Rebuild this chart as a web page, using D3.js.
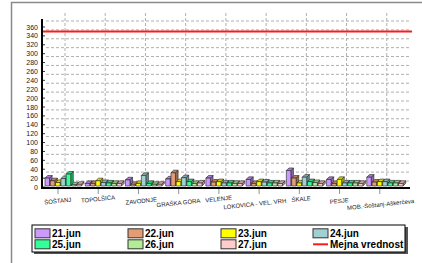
<!DOCTYPE html>
<html><head><meta charset="utf-8">
<script src="https://cdn.jsdelivr.net/npm/d3@7"></script>
<style>html,body{margin:0;padding:0;background:#fff;}svg{display:block;}</style>
</head><body>
<script>
const categories = ["ŠOŠTANJ","TOPOLŠICA","ZAVODNJE","GRAŠKA GORA","VELENJE","LOKOVICA - VEL. VRH","ŠKALE","PESJE","MOB.-Šoštanj-Aškerčeva"];
const seriesNames = ["21.jun","22.jun","23.jun","24.jun","25.jun","26.jun","27.jun"];
const s21 = [20, 8, 16, 18, 20, 17, 37, 17, 22];
const s22 = [14, 8, 6, 32, 11, 8, 20, 8, 11];
const s23 = [10, 14, 8, 12, 12, 12, 9, 17, 12];
const s24 = [19, 10, 26, 21, 9, 11, 22, 9, 12];
const s25 = [29, 9, 8, 12, 9, 9, 12, 9, 9];
const s26 = [5, 8, 6, 8, 8, 9, 10, 9, 9];
const s27 = [6, 8, 6, 9, 8, 8, 8, 8, 8];
const limitName = "Mejna vrednost";
const limitValue = 350;
const yTicks = d3.range(0, 361, 20);
const colors = ["#cc99ff","#e39c74","#ffff00","#a0d0d2","#33ff99","#b4ec96","#ffcccc"];
const allSeries = [s21,s22,s23,s24,s25,s26,s27];

const W = 422, H = 263;
const svg = d3.select("body").append("svg").attr("width", W).attr("height", H);
const font = "'Liberation Sans', Arial, sans-serif";

// outer frame
svg.append("path").attr("d", "M11.5,270 V2.5 H430").attr("fill","none").attr("stroke","#8a8a8a").attr("stroke-width",1.5);

const y = d3.scaleLinear().domain([0, 360]).range([187, 27]);
const x = d3.scaleBand().domain(categories).range([43, 405]);
const wallDy = -6;

// back wall horizontal gridlines
svg.append("g").selectAll("line").data(yTicks).join("line")
  .attr("x1", 46).attr("x2", 411)
  .attr("y1", d => y(d) + wallDy).attr("y2", d => y(d) + wallDy)
  .attr("stroke", "#b0b0b0").attr("stroke-width", 1).attr("stroke-dasharray", "3,2");
// vertical gridlines
svg.append("g").selectAll("line").data(categories).join("line")
  .attr("x1", d => x(d) + 22).attr("x2", d => x(d) + 22)
  .attr("y1", 13).attr("y2", 183)
  .attr("stroke", "#b0b0b0").attr("stroke-width", 1).attr("stroke-dasharray", "3,2");

// limit line
svg.append("line").attr("x1", 42).attr("x2", 412)
  .attr("y1", y(limitValue)).attr("y2", y(limitValue))
  .attr("stroke", "#ff1a1a").attr("stroke-width", 2);

// 3D bars
const step = 5.3, bw = 4.5, dx = 2.6, dy = 2.6;
const bars = svg.append("g");
categories.forEach((c, ci) => {
  allSeries.forEach((s, si) => {
    const col = colors[si];
    const dark = d3.color(col).darker(1.1).formatHex();
    const mid = d3.color(col).darker(0.5).formatHex();
    const x0 = x(c) + 2 + si * step;
    const x1 = x0 + bw;
    const yb = y(0) - 1;
    const yt = y(s[ci]);
    const g = bars.append("g").attr("stroke", "#222").attr("stroke-width", 0.6).attr("stroke-linejoin","round");
    g.append("path").attr("d", `M${x1},${yb} L${x1+dx},${yb-dy} L${x1+dx},${yt-dy} L${x1},${yt} Z`).attr("fill", dark);
    g.append("path").attr("d", `M${x0},${yt} L${x0+dx},${yt-dy} L${x1+dx},${yt-dy} L${x1},${yt} Z`).attr("fill", mid);
    g.append("rect").attr("x", x0).attr("y", yt).attr("width", bw).attr("height", yb - yt).attr("fill", col);
  });
});

// y axis
svg.append("line").attr("x1", 42).attr("x2", 42).attr("y1", 19).attr("y2", 189).attr("stroke", "#000").attr("stroke-width", 2);
svg.append("g").selectAll("line").data(yTicks).join("line")
  .attr("x1", 42).attr("x2", 45).attr("y1", d => y(d)).attr("y2", d => y(d)).attr("stroke","#000").attr("stroke-width",0.8);
svg.append("g").selectAll("text").data(yTicks).join("text")
  .attr("x", 38).attr("y", d => y(d) + 2.5).attr("text-anchor", "end")
  .attr("font-family", font).attr("font-size", 7).attr("fill", "#222").text(d => d);

// x axis
svg.append("line").attr("x1", 41).attr("x2", 410).attr("y1", 188).attr("y2", 188).attr("stroke", "#000").attr("stroke-width", 2);
svg.append("g").selectAll("line").data(categories).join("line")
  .attr("x1", d => x(d) + 15).attr("x2", d => x(d) + 15).attr("y1", 189).attr("y2", 194)
  .attr("stroke", "#777").attr("stroke-width", 0.8);
const labelDy = [203, 201, 203, 205, 201, 206, 201, 203, 206.5];
const labelDx = [0, 0, 3, 0, 0, -4, 2, 0, 1];
svg.append("g").selectAll("text").data(categories).join("text")
  .attr("transform", (d, i) => `translate(${x(d) + 15 + labelDx[i]},${labelDy[i]}) rotate(-6)`)
  .attr("text-anchor", "middle").attr("font-family", font).attr("font-size", 6).attr("fill", "#222")
  .text(d => d);

// legend
const lg = svg.append("g");
lg.append("rect").attr("x", 34).attr("y", 227).attr("width", 374).attr("height", 27).attr("fill", "#555");
lg.append("rect").attr("x", 32).attr("y", 225).attr("width", 373).attr("height", 27).attr("fill", "#fff").attr("stroke", "#000").attr("stroke-width", 1);
const colX = [35, 128, 221, 313];
const rowY = [233.3, 244.3];
const legendItems = seriesNames.map((n, i) => ({name: n, color: colors[i], type: "bar"}));
legendItems.push({name: limitName, color: "#ff1a1a", type: "line"});
legendItems.forEach((it, i) => {
  const cx = colX[i % 4], cy = rowY[Math.floor(i / 4)];
  if (it.type === "bar") {
    lg.append("rect").attr("x", cx).attr("y", cy - 4.5).attr("width", 15).attr("height", 9)
      .attr("fill", it.color).attr("stroke", "#333").attr("stroke-width", 1);
  } else {
    lg.append("line").attr("x1", cx).attr("x2", cx + 15).attr("y1", cy).attr("y2", cy).attr("stroke", it.color).attr("stroke-width", 2);
  }
  lg.append("text").attr("x", cx + 17).attr("y", cy + 3.6).attr("font-family", font).attr("font-weight", "bold")
    .attr("font-size", 10).attr("fill", "#000").text(it.name);
});
</script>
</body></html>
